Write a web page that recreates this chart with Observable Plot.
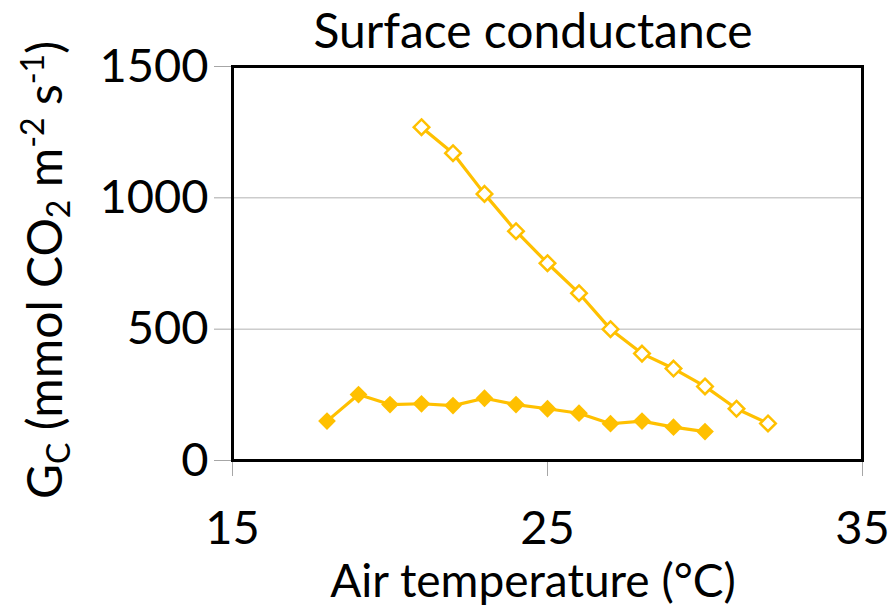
<!DOCTYPE html>
<html>
<head>
<meta charset="utf-8">
<script src="https://cdn.jsdelivr.net/npm/d3@7"></script>
<script src="https://cdn.jsdelivr.net/npm/@observablehq/plot@0.6"></script>
<style>
  html, body { margin: 0; padding: 0; background: white; }
  #chart svg { display: block; }
</style>
</head>
<body>
<div id="chart"></div>
<script>
const titleText = "Surface conductance";
const xLabel = "Air temperature (°C)";
const xTicks = [15, 25, 35];
const yTicks = [0, 500, 1000, 1500];
const yGrid = [500, 1000];

const openTemp = [21, 22, 23, 24, 25, 26, 27, 28, 29, 30, 31, 32];
const openGc = [1269, 1170, 1015, 873, 751, 637, 500, 407, 350, 282, 197, 141];

const filledTemp = [18, 19, 20, 21, 22, 23, 24, 25, 26, 27, 28, 29, 30];
const filledGc = [150, 251, 213, 216, 209, 237, 213, 197, 180, 140, 150, 127, 110];

const openData = openTemp.map((t, i) => ({t, g: openGc[i]}));
const filledData = filledTemp.map((t, i) => ({t, g: filledGc[i]}));

const gold = "#FFC000";
const font = "Lato";
const tickFont = 47;

const plot = Plot.plot({
  width: 893,
  height: 607,
  marginLeft: 232,
  marginRight: 31,
  marginTop: 66,
  marginBottom: 147,
  style: {fontFamily: font, background: "white", color: "black"},
  x: {domain: [15, 35]},
  y: {domain: [0, 1500]},
  marks: [
    Plot.gridY(yGrid, {stroke: "#b3b3b3", strokeOpacity: 1, strokeWidth: 1}),
    Plot.axisY({ticks: yTicks, tickSize: 18, text: null, stroke: "#a6a6a6", strokeOpacity: 1, label: null}),
    Plot.axisY({ticks: yTicks, tickSize: 0, tickPadding: 24, fontSize: tickFont, fill: "black", label: null, tickFormat: d => String(d)}),
    Plot.axisX({ticks: xTicks, tickSize: 16, text: null, stroke: "#a6a6a6", strokeOpacity: 1, label: null}),
    Plot.axisX({ticks: xTicks, tickSize: 0, tickPadding: 50, fontSize: tickFont, fill: "black", label: null, tickFormat: d => String(d)}),
    Plot.frame({stroke: "black", strokeWidth: 3}),
    Plot.line(filledData, {x: "t", y: "g", stroke: gold, strokeWidth: 3.2}),
    Plot.line(openData, {x: "t", y: "g", stroke: gold, strokeWidth: 3.2}),
    Plot.dot(filledData, {x: "t", y: "g", symbol: "diamond2", r: 8, fill: gold, stroke: "none"}),
    Plot.dot(openData, {x: "t", y: "g", symbol: "diamond2", r: 7, fill: "white", stroke: gold, strokeWidth: 2.5})
  ]
});

document.getElementById("chart").appendChild(plot);

const svg = d3.select(plot);

svg.append("text")
  .attr("x", 533).attr("y", 48)
  .attr("text-anchor", "middle")
  .style("font-family", font).style("font-size", "48px").attr("fill", "black")
  .text(titleText);

svg.append("text")
  .attr("x", 533).attr("y", 597)
  .attr("text-anchor", "middle")
  .style("font-family", font).style("font-size", "46px").attr("fill", "black")
  .text(xLabel);

const yl = svg.append("text")
  .attr("transform", "translate(62,270) rotate(-90)")
  .attr("text-anchor", "middle")
  .style("font-family", font).style("font-size", "48px").attr("fill", "black");
const parts = [
  ["G", 0, null],
  ["C", 8, 32],
  [" (mmol CO", -8, null],
  ["2", 8, 32],
  [" m", -8, null],
  ["-2", -18, 32],
  [" s", 18, null],
  ["-1", -18, 32],
  [")", 18, null]
];
parts.forEach(([txt, dy, fs]) => {
  const ts = yl.append("tspan").attr("dy", dy).text(txt);
  if (fs) ts.style("font-size", fs + "px");
});
</script>
</body>
</html>
